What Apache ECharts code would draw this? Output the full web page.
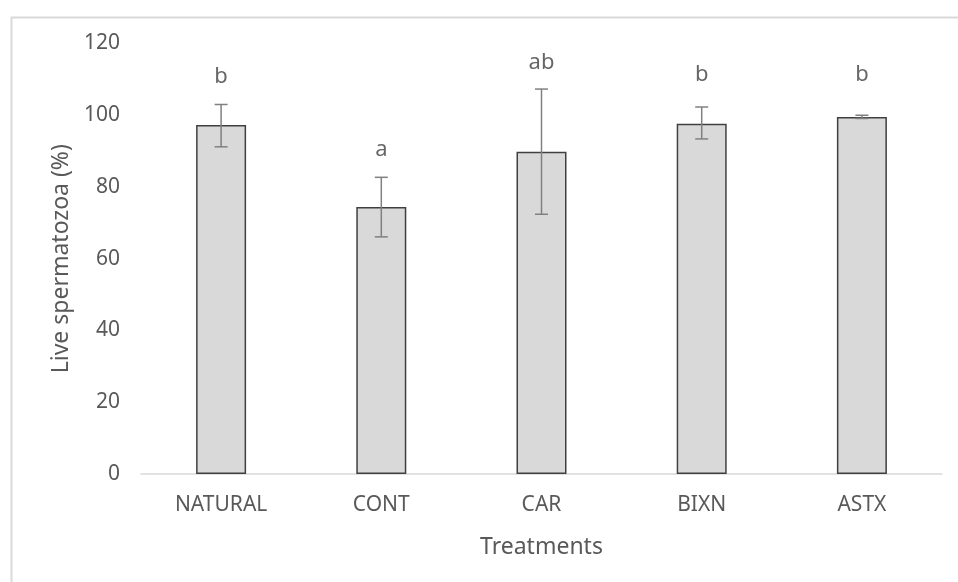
<!DOCTYPE html>
<html>
<head>
<meta charset="utf-8">
<script src="https://cdn.jsdelivr.net/npm/echarts@6/dist/echarts.min.js"></script>
<style>html,body{margin:0;padding:0;background:#fff}#c{width:958px;height:582px}</style>
</head>
<body>
<div id="c"></div>
<script>
const categories = ['NATURAL', 'CONT', 'CAR', 'BIXN', 'ASTX'];
const liveValues = [97.3, 74.4, 89.8, 97.6, 99.5];
const errorLow = [91.2, 66.1, 72.4, 93.4, 99.1];
const errorHigh = [103.0, 82.7, 107.3, 102.3, 100.0];
const letters = ['b', 'a', 'ab', 'b', 'b'];
const letterValues = [107.8, 87.2, 111.7, 108.1, 108.3];
const yTicks = [0, 20, 40, 60, 80, 100, 120];

const FONT = 'Noto Sans';
const chart = echarts.init(document.getElementById('c'), null, {renderer: 'canvas'});
chart.setOption({
  animation: false,
  backgroundColor: '#ffffff',
  graphic: [{
    type: 'rect', left: 9, top: 15, silent: true,
    shape: {width: 1000, height: 700},
    style: {fill: 'none', stroke: '#d9d9d9', lineWidth: 2}
  }],
  grid: {left: 141, right: 16, top: 43.5, bottom: 108, containLabel: false},
  xAxis: {
    type: 'category', data: categories,
    axisLine: {lineStyle: {color: '#d9d9d9', width: 1.5}},
    axisTick: {show: false},
    axisLabel: {color: '#595959', fontFamily: FONT, fontSize: 21, margin: 21},
    name: 'Treatments', nameLocation: 'middle', nameGap: 62,
    nameTextStyle: {color: '#595959', fontFamily: FONT, fontSize: 23}
  },
  yAxis: {
    type: 'value', min: yTicks[0], max: yTicks[yTicks.length - 1], interval: 20,
    axisLine: {show: false}, axisTick: {show: false}, splitLine: {show: false},
    axisLabel: {color: '#595959', fontFamily: FONT, fontSize: 21, margin: 21},
    name: 'Live spermatozoa (%)', nameLocation: 'middle', nameGap: 64,
    nameTextStyle: {color: '#595959', fontFamily: FONT, fontSize: 23}
  },
  series: [
    {
      type: 'bar', data: liveValues, barWidth: 50,
      itemStyle: {color: '#d9d9d9', borderColor: '#404040', borderWidth: 1.5}
    },
    {
      type: 'custom',
      data: categories.map((c, i) => [i, errorLow[i], errorHigh[i]]),
      renderItem: function (params, api) {
        const x = api.value(0);
        const lo = api.coord([x, api.value(1)]);
        const hi = api.coord([x, api.value(2)]);
        const hw = 6.5;
        const st = {stroke: '#808080', lineWidth: 1.5};
        return {type: 'group', children: [
          {type: 'line', shape: {x1: lo[0], y1: lo[1], x2: hi[0], y2: hi[1]}, style: st},
          {type: 'line', shape: {x1: lo[0] - hw, y1: lo[1], x2: lo[0] + hw, y2: lo[1]}, style: st},
          {type: 'line', shape: {x1: hi[0] - hw, y1: hi[1], x2: hi[0] + hw, y2: hi[1]}, style: st}
        ]};
      },
      z: 5
    },
    {
      type: 'scatter', symbolSize: 0,
      data: categories.map((c, i) => [i, letterValues[i]]),
      label: {
        show: true, position: 'top', distance: 0,
        formatter: p => letters[p.dataIndex],
        color: '#404040', fontFamily: FONT, fontSize: 22
      },
      z: 6
    }
  ]
});
</script>
</body>
</html>
